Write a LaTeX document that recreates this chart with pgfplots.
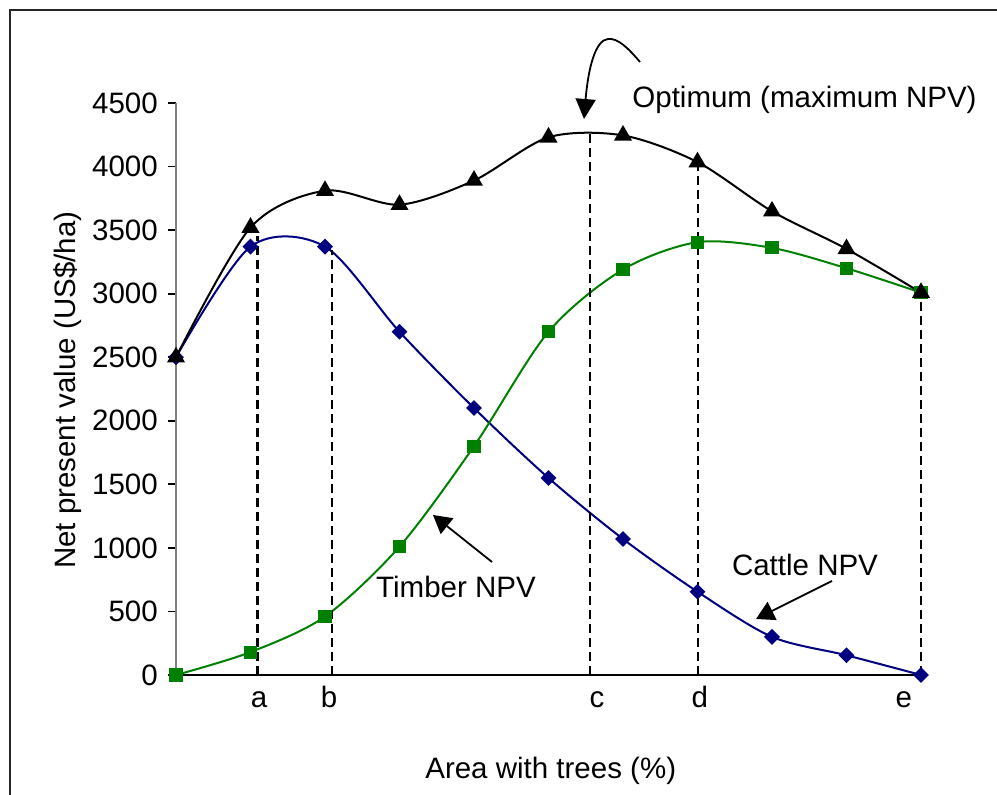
\documentclass[border=0pt]{standalone}
\usepackage{fontspec}
\setmainfont{Liberation Sans}
\usepackage{pgfplots}
\pgfplotsset{compat=1.18}
\usepackage{pgfplotstable}
\usetikzlibrary{arrows.meta}

\definecolor{cattleblue}{RGB}{0,0,128}
\definecolor{timbergreen}{RGB}{0,128,0}

% Net present value (US$/ha) against the share of the area under trees
\pgfplotstableread{
x  cattle timber optimum
0  2500   0      2500
1  3370   180    3520
2  3370   460    3810
3  2700   1010   3700
4  2100   1800   3890
5  1550   2700   4230
6  1070   3190   4245
7  655    3405   4035
8  300    3360   3648
9  155    3200   3352
10 0      3008   3008
}\npvdata

\begin{document}
\fontsize{14.75pt}{17.5pt}\selectfont
\begin{tikzpicture}
\useasboundingbox (0,0) rectangle (498.5pt,397.5pt);
% outer frame
\draw[line width=1.1pt, black!85] (5pt,-20pt) -- (5pt,392.5pt) -- (520pt,392.5pt);

\begin{axis}[
  at={(88pt,60pt)}, anchor=south west,
  scale only axis, width=372.5pt, height=286pt,
  xmin=0, xmax=10, ymin=0, ymax=4500,
  enlargelimits=false,
  axis lines=left, axis line style={-},
  x axis line style={black, line width=0.9pt},
  y axis line style={gray, line width=0.9pt},
  ytick={0,500,...,4500},
  tick align=outside,
  major tick length=4pt,
  ytick style={black, line width=0.9pt},
  xtick={1.114,2.054,5.65,7.03,9.77},
  xticklabels={a,b,c,d,e},
  xtick style={draw=none},
  xticklabel style={anchor=base, yshift=-12.5pt},
  /pgf/number format/assume math mode=true,
  /pgf/number format/set thousands separator={},
  ylabel={Net present value (US\$/ha)},
  xlabel={Area with trees (\%)},
  ylabel style={at={(axis description cs:-0.145,0.498)}, anchor=center},
  xlabel style={at={(axis description cs:0.503,-0.168)}, anchor=center},
  clip=false,
]
\addplot[cattleblue, line width=1pt, smooth, tension=0.5,
  mark=square*, mark size=2.3pt, mark options={rotate=45, solid}]
  table[x=x, y=cattle] {\npvdata};
\addplot[timbergreen, line width=1pt, smooth, tension=0.5,
  mark=square*, mark size=2.8pt, mark options={solid}]
  table[x=x, y=timber] {\npvdata};
\addplot[black, line width=1pt, smooth, tension=0.5,
  mark=triangle*, mark size=4.2pt, mark options={solid}]
  table[x=x, y=optimum] {\npvdata};

% reference levels a--e
\addplot[black, line width=1.5pt, dash pattern=on 4.5pt off 2.5pt, forget plot] coordinates {(1.094,0) (1.094,3450)};
\addplot[black, line width=1pt, dash pattern=on 4.5pt off 2.5pt, forget plot] coordinates {(2.09,0) (2.09,3340)};
\addplot[black, line width=1pt, dash pattern=on 4.5pt off 2.5pt, forget plot] coordinates {(5.557,0) (5.557,4275)};
\addplot[black, line width=1pt, dash pattern=on 4.5pt off 2.5pt, forget plot] coordinates {(7,0) (7,4035)};
\addplot[black, line width=1pt, dash pattern=on 4.5pt off 2.5pt, forget plot] coordinates {(10,0) (10,3008)};
\end{axis}

% annotations
\begin{scope}[x=0.5pt, y=-0.5pt, yshift=397.5pt]
  \node[anchor=west, inner sep=0pt] at (632,100) {Optimum (maximum NPV)};
  \node[inner sep=0pt] at (456,587) {Timber NPV};
  \node[inner sep=0pt] at (805,565) {Cattle NPV};
  \draw[line width=0.9pt, -{Triangle[length=10pt,width=10pt]}]
    (640,62) .. controls (628,48) and (618,38) .. (608,39)
    .. controls (595,40) and (588,70) .. (584,119);
  \draw[line width=0.9pt, -{Triangle[length=9pt,width=10pt]}] (492,562) -- (433,515);
  \draw[line width=0.9pt, -{Triangle[length=9pt,width=10pt]}] (832,581) -- (756,619);
\end{scope}
\end{tikzpicture}
\end{document}
